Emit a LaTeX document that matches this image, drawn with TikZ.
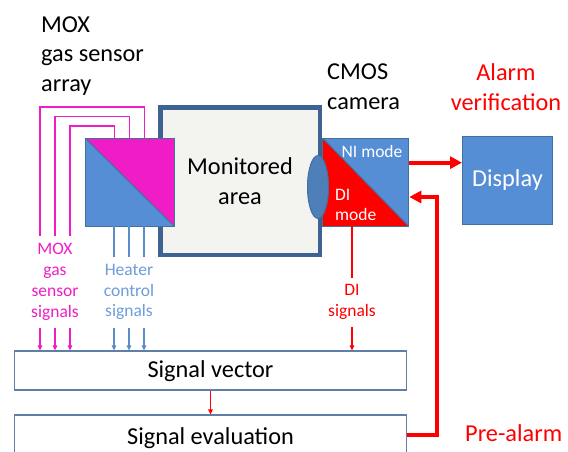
\documentclass[tikz,border=0pt]{standalone}
\usepackage{fontspec}
\setmainfont{Carlito}
\usetikzlibrary{arrows.meta,shapes.geometric}
\definecolor{mag}{HTML}{F01DC6}
\definecolor{fillblue}{HTML}{558ED5}
\definecolor{edgeblue}{HTML}{41719C}
\definecolor{areaedge}{HTML}{3E6393}
\definecolor{areafill}{HTML}{F3F3EF}
\definecolor{heatblue}{HTML}{6D9DDB}
\definecolor{wireblue}{HTML}{5B8CC9}
\definecolor{lensfill}{HTML}{4F7FB8}
\definecolor{boxedge}{HTML}{5F7FA8}
\tikzset{
  bigfont/.style={font=\fontsize{24.3}{29.8}\selectfont},
  smallfont/.style={font=\fontsize{17.5}{20.8}\selectfont},
  sqbox/.style={draw=edgeblue, line width=1.3pt, minimum width=89pt, minimum height=88pt, inner sep=0pt},
  barbox/.style={draw=boxedge, line width=1.2pt, fill=white, minimum width=392pt, inner sep=0pt, bigfont},
  thintip/.style={-{Triangle[length=5pt,width=4.5pt]}},
  thicktip/.style={-{Triangle[length=12pt,width=12pt]}},
  magwire/.style={draw=mag, line width=1.6pt, thintip},
  bluewire/.style={draw=wireblue, line width=1.4pt, thintip},
  redthin/.style={draw=red, line width=1.4pt, thintip},
  redthick/.style={draw=red, line width=4pt, thicktip},
  tag/.style={fill=white, inner sep=0pt, align=center, smallfont}
}
\begin{document}
\begin{tikzpicture}[x=1pt, y=-1pt]
\useasboundingbox (0,0) rectangle (568,451);
\clip (0,0) rectangle (568,451);

% headings
\node[bigfont, align=left, anchor=west, inner sep=0pt] (hmox) at (41,56) {MOX\\gas sensor\\array};
\node[bigfont, align=left, anchor=west, inner sep=0pt] (hcam) at (327,87) {CMOS\\camera};
\node[bigfont, align=center, text=red, inner sep=0pt] (halarm) at (506,87) {Alarm\\verification};

% monitored area
\node[draw=areaedge, fill=areafill, line width=4.5pt, minimum width=159.5pt, minimum height=147.5pt,
      inner sep=0pt, bigfont, align=center] (area) at (240,181) {Monitored\\area};

% MOX sensor array: blue lower-left, magenta upper-right
\node[sqbox, anchor=north west, path picture={
   \fill[fillblue] (path picture bounding box.north west) -- (path picture bounding box.south west)
                   -- (path picture bounding box.south east) -- cycle;
   \fill[mag] (path picture bounding box.north west) -- (path picture bounding box.north east)
                   -- (path picture bounding box.south east) -- cycle;
   \draw[edgeblue, line width=1pt] (path picture bounding box.north west) -- (path picture bounding box.south east);
  }] (sensor) at (84.5,137.5) {};

% CMOS camera: red lower-left, blue upper-right
\node[sqbox, minimum width=86pt, anchor=north west, path picture={
   \fill[red] (path picture bounding box.north west) -- (path picture bounding box.south west)
                   -- (path picture bounding box.south east) -- cycle;
   \fill[fillblue] (path picture bounding box.north west) -- (path picture bounding box.north east)
                   -- (path picture bounding box.south east) -- cycle;
   \draw[edgeblue, line width=1pt] (path picture bounding box.north west) -- (path picture bounding box.south east);
  }] (cam) at (322,137.5) {};
\node[text=white, smallfont, anchor=center, inner sep=0pt] (ni) at (372,151) {NI mode};
\node[text=white, smallfont, align=left, anchor=west, inner sep=0pt] (dimode) at (335,205) {DI\\mode};

% lens
\node[draw=edgeblue, fill=lensfill, line width=1pt, ellipse, minimum width=21pt, minimum height=63pt,
      inner sep=0pt] (lens) at (318,187) {};

% display
\node[draw=edgeblue, fill=fillblue, line width=1pt, minimum width=90pt, minimum height=88pt,
      inner sep=0pt, text=white, bigfont] (disp) at (507.5,180.5) {Display};

% processing boxes
\node[barbox, minimum height=39pt, text depth=2pt] (vec) at (210.5,370.5) {Signal vector};
\node[barbox, minimum height=46pt] (eval) at (210.5,438) {Signal evaluation};

% wire positions
\coordinate (m1) at (40,0);
\coordinate (m2) at (55,0);
\coordinate (m3) at (70,0);
\coordinate (h1) at (114,226);
\coordinate (h2) at (129,226);
\coordinate (h3) at (144,226);
\coordinate (di) at (352,226);

% MOX sensor signal loops
\draw[magwire] ([xshift=60pt]sensor.north west) |- (40,107) -- (m1 |- vec.north);
\draw[magwire] ([xshift=45pt]sensor.north west) |- (55,116.5) -- (m2 |- vec.north);
\draw[magwire] ([xshift=30pt]sensor.north west) |- (70,126) -- (m3 |- vec.north);

% heater control lines
\draw[bluewire] (h1) -- (h1 |- vec.north);
\draw[bluewire] (h2) -- (h2 |- vec.north);
\draw[bluewire] (h3) -- (h3 |- vec.north);

% DI signal line
\draw[redthin] (di) -- (di |- vec.north);

% signal labels over the lines
\node[tag, text=mag, minimum height=92pt, minimum width=46pt] (lmox) at (55,282) {MOX\\gas\\sensor\\signals};
\node[tag, text=heatblue, minimum height=71pt, minimum width=50pt] (lheat) at (129,292) {Heater\\control\\signals};
\node[tag, text=red, minimum height=49pt, minimum width=46pt] (ldi) at (352,302) {DI\\signals};

% vector -> evaluation
\draw[redthin] (vec.south) -- (eval.north);

% NI mode -> display
\draw[redthick] ([yshift=19.5pt]cam.east) -- ([yshift=19.5pt]cam.east -| disp.west);

% pre-alarm feedback to camera
\coordinate (turn) at (437,197);
\draw[redthick] ([yshift=3pt]eval.east) -| (turn) -- (turn -| cam.east);
\node[bigfont, text=red, anchor=west, inner sep=0pt] (pre) at (465,433) {Pre-alarm};
\end{tikzpicture}
\end{document}
